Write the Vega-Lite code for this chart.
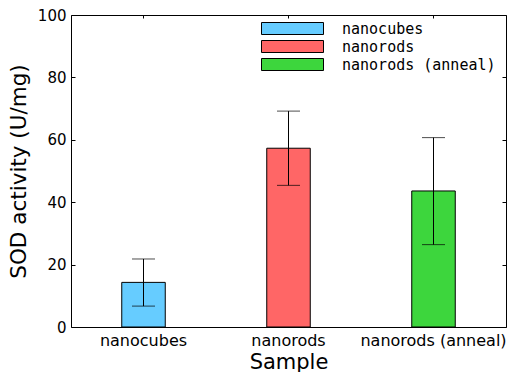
{
  "$schema": "https://vega.github.io/schema/vega-lite/v6.json",
  "width": 435,
  "height": 312,
  "autosize": {"type": "none"},
  "padding": {"left": 71, "top": 15, "right": 5, "bottom": 45},
  "background": "white",
  "config": {
    "view": {"stroke": "black", "strokeWidth": 1},
    "axis": {
      "domainColor": "black", "tickColor": "black", "labelColor": "black", "titleColor": "black",
      "grid": false, "labelFont": "DejaVu Sans", "titleFont": "DejaVu Sans", "titleFontWeight": "normal"
    }
  },
  "data": {
    "values": [
      {"sample": "nanocubes", "value": 14.3, "lo": 6.7, "hi": 21.8},
      {"sample": "nanorods", "value": 57.3, "lo": 45.4, "hi": 69.2},
      {"sample": "nanorods (anneal)", "value": 43.6, "lo": 26.4, "hi": 60.7}
    ]
  },
  "layer": [
    {
      "mark": {"type": "bar", "stroke": "black", "strokeWidth": 1},
      "encoding": {
        "x": {
          "field": "sample", "type": "nominal", "sort": null,
          "scale": {"paddingInner": 0.7, "paddingOuter": 0.35},
          "axis": {"orient": "bottom", "title": "Sample", "labelAngle": 0, "labelFontSize": 16, "titleFontSize": 21,
                   "tickSize": -3, "labelPadding": 8, "titlePadding": 3, "domain": false}
        },
        "y": {
          "field": "value", "type": "quantitative",
          "scale": {"domain": [0, 100], "nice": false},
          "axis": {"orient": "left", "title": "SOD activity (U/mg)", "values": [0, 20, 40, 60, 80, 100],
                   "labelFontSize": 15, "titleFontSize": 21.5, "tickSize": -4, "labelPadding": 9, "titlePadding": 7, "domain": false}
        },
        "color": {
          "field": "sample", "type": "nominal", "sort": null,
          "scale": {"domain": ["nanocubes", "nanorods", "nanorods (anneal)"], "range": ["#66CCFF", "#FF6666", "#3DD63D"]},
          "legend": {
            "orient": "none", "legendX": 213, "legendY": 5, "title": null,
            "symbolType": "M-3.875,-0.75H3.875V0.75H-3.875Z", "symbolSize": 256,
            "symbolStrokeColor": "black", "symbolStrokeWidth": 1, "symbolOpacity": 1,
            "labelFont": "DejaVu Sans Mono", "labelFontSize": 15, "labelColor": "black", "labelOffset": 41,
            "padding": 0, "rowPadding": 1
          }
        }
      }
    },
    {
      "mark": {"type": "rule", "color": "black", "strokeWidth": 1},
      "encoding": {
        "x": {"field": "sample", "type": "nominal", "sort": null,
              "axis": {"orient": "top", "title": null, "labels": false, "tickSize": -3, "domain": false}},
        "y": {"field": "lo", "type": "quantitative",
              "axis": {"orient": "right", "title": null, "labels": false, "tickSize": -4, "domain": false, "values": [0, 20, 40, 60, 80, 100]}},
        "y2": {"field": "hi"}
      }
    },
    {
      "mark": {"type": "tick", "color": "black", "size": 23, "thickness": 1},
      "encoding": {
        "x": {"field": "sample", "type": "nominal", "sort": null, "axis": null},
        "y": {"field": "lo", "type": "quantitative", "axis": null}
      }
    },
    {
      "mark": {"type": "tick", "color": "black", "size": 23, "thickness": 1},
      "encoding": {
        "x": {"field": "sample", "type": "nominal", "sort": null, "axis": null},
        "y": {"field": "hi", "type": "quantitative", "axis": null}
      }
    }
  ],
  "resolve": {"axis": {"x": "independent", "y": "independent"}}
}
